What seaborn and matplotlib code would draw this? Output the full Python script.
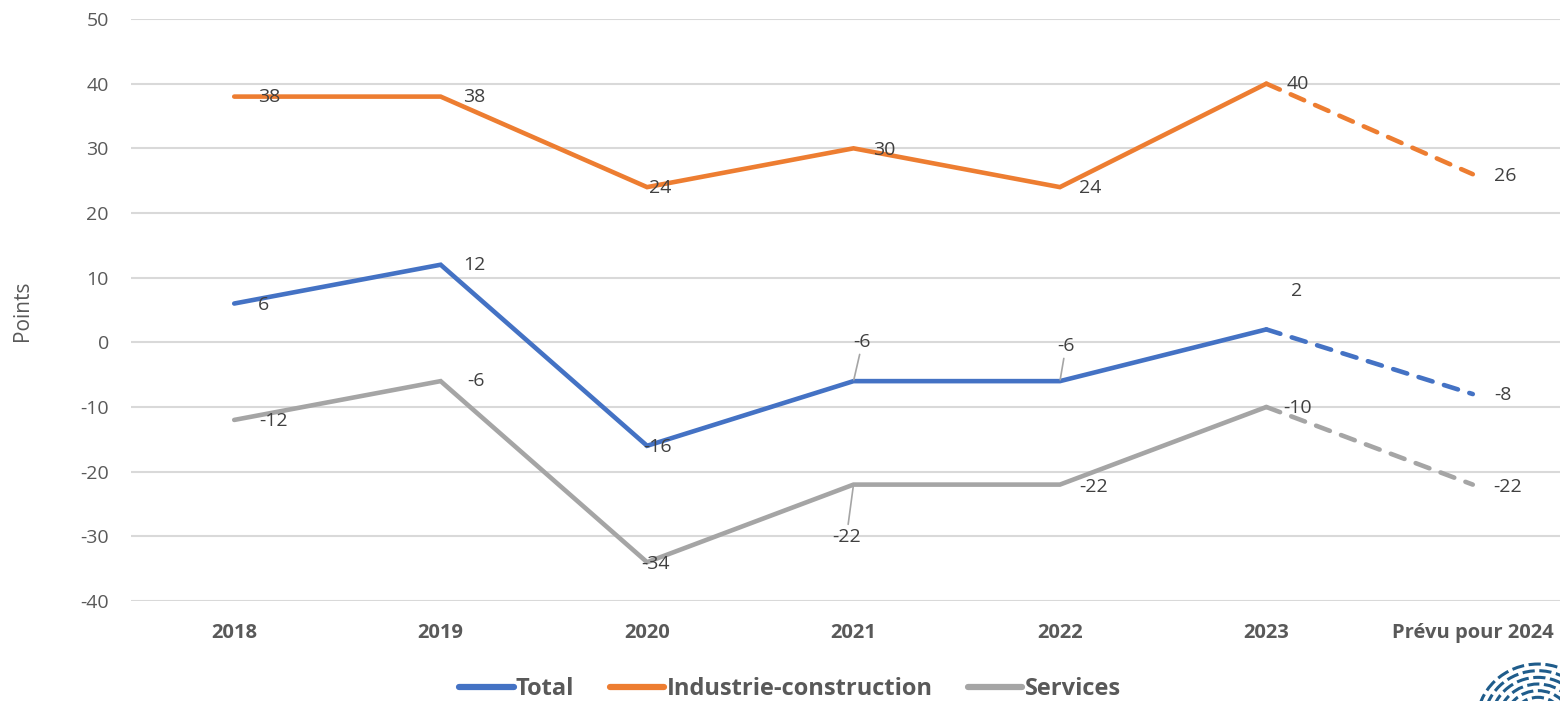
import matplotlib
matplotlib.use("Agg")
from matplotlib import pyplot as plt
from matplotlib.lines import Line2D
from matplotlib.patches import Arc
import seaborn as sns
import pandas as pd

# données
annees = ['2018', '2019', '2020', '2021', '2022', '2023', 'Prévu pour 2024']
total = [6, 12, -16, -6, -6, 2, -8]
industrie = [38, 38, 24, 30, 24, 40, 26]
services = [-12, -6, -34, -22, -22, -10, -22]

series = ['Total', 'Industrie-construction', 'Services']
couleurs = {'Total': '#4472C4', 'Industrie-construction': '#ED7D31', 'Services': '#A5A5A5'}

# décalage des étiquettes (pixels), comme dans l'original
decalages = {
    'Total': [(29, -1), (34, 0), (10, -1), (9, 39), (6, 35), (30, 38), (30, -1)],
    'Industrie-construction': [(35, 0), (34, 0), (13, -1), (31, -2), (30, -1), (31, 0), (32, -2)],
    'Services': [(39, -1), (35, 0), (8, -2), (-7, -52), (34, -2), (31, -1), (35, -2)],
}
avec_trait = {('Total', 3), ('Total', 4), ('Services', 3)}

df = pd.DataFrame({'annee': annees * 3,
                   'valeur': total + industrie + services,
                   'serie': sum([[s] * len(annees) for s in series], [])})
df['pos'] = df.groupby('serie').cumcount()

sns.set_style('white')
plt.rcParams['font.family'] = ['Open Sans', 'DejaVu Sans']
plt.rcParams['axes.unicode_minus'] = False

gris = '#595959'
fig = plt.figure(figsize=(15.6, 7.01), dpi=100)
ax = fig.add_axes([131 / 1560, 100 / 701, 1445 / 1560, 582 / 701])

observe = df[df['pos'] <= 5]
prevu = df[df['pos'] >= 5]
sns.lineplot(data=observe, x='annee', y='valeur', hue='serie', palette=couleurs,
             lw=3.3, legend=False, ax=ax, sort=False)
sns.lineplot(data=prevu, x='annee', y='valeur', hue='serie', palette=couleurs,
             lw=3.3, dashes=False, legend=False, ax=ax, sort=False)
for ln in ax.lines[:3]:
    ln.set_solid_capstyle('round')
    ln.set_solid_joinstyle('miter')
for ln in ax.lines[3:]:
    ln.set_linestyle((0, (3.2, 2.6)))
    ln.set_dash_capstyle('round')

# étiquettes de données
for s in series:
    sub = df[df['serie'] == s]
    for i, (a, v) in enumerate(zip(sub['annee'], sub['valeur'])):
        dx, dy = decalages[s][i]
        props = None
        if (s, i) in avec_trait:
            props = dict(arrowstyle='-', color='#A5A5A5', lw=1.2, shrinkA=0, shrinkB=1)
        ax.annotate(str(v), xy=(i, v), xytext=(dx, dy), textcoords='offset pixels',
                    ha='center', va='center', fontsize=14, color='#404040',
                    arrowprops=props)

ax.set_xlim(-0.5, 6.5)
ax.set_ylim(-40, 50)
ax.set_yticks(range(-40, 51, 10))
ax.grid(axis='y', color='#D9D9D9', lw=1.5)
ax.set_axisbelow(True)
sns.despine(ax=ax, left=True, bottom=True)
ax.tick_params(axis='y', length=0, pad=16, labelsize=14, labelcolor=gris)
ax.tick_params(axis='x', length=0, pad=16, labelsize=14.5, labelcolor=gris)
for t in ax.get_xticklabels():
    t.set_fontweight('bold')
ax.set_xlabel('')
ax.set_ylabel('')
fig.text(22 / 1560, 1 - 311 / 701, 'Points', rotation=90, ha='center', va='center',
         fontsize=15, color=gris)

# légende
poignees = [Line2D([0], [0], color=couleurs[s], lw=4.5, solid_capstyle='round') for s in series]
leg = fig.legend(poignees, series, loc='center', bbox_to_anchor=(790 / 1560, 1 - 689 / 701),
                 ncol=3, frameon=False, handlelength=2.3, handletextpad=0.1,
                 columnspacing=1.5, prop={'weight': 'bold', 'size': 17})
for t in leg.get_texts():
    t.set_color(gris)

# logo (approximation)
lax = fig.add_axes([0, 0, 1, 1], facecolor='none')
lax.set_xlim(0, 1560)
lax.set_ylim(701, 0)
lax.axis('off')
for r in range(12, 62, 7):
    lax.add_patch(Arc((1538, 722), 2 * r, 2 * r * 0.95, theta1=180, theta2=360,
                      color='#1F5C8B', lw=2.2, linestyle=(0, (4, 1.5))))

fig.savefig('out.png', dpi=100)
